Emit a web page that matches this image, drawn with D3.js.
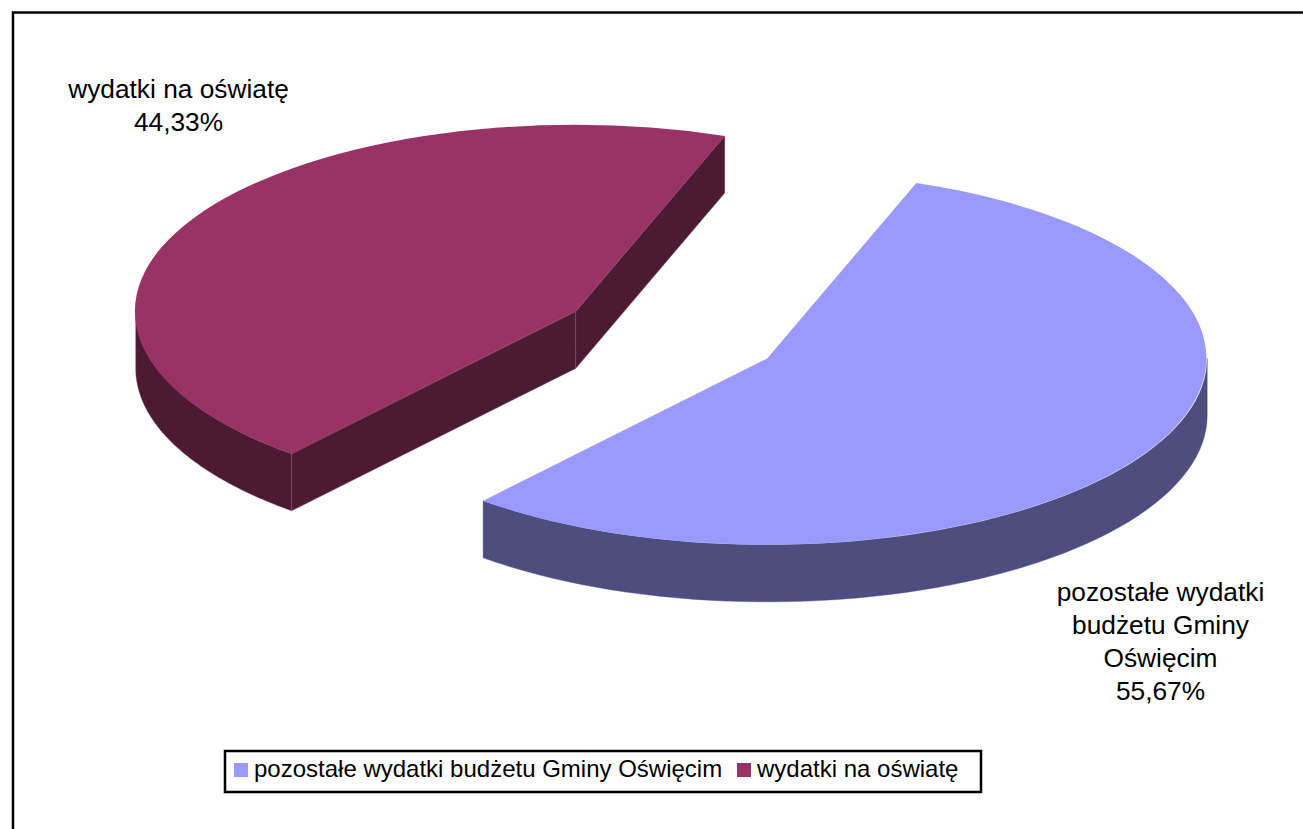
<!DOCTYPE html>
<html lang="pl">
<head>
<meta charset="utf-8">
<title>Wydatki budżetu</title>
<script src="https://cdn.jsdelivr.net/npm/d3@7"></script>
<style>
html, body { margin: 0; padding: 0; background: #fff; overflow: hidden; }
svg { display: block; }
text { font-family: "Liberation Sans", Arial, sans-serif; fill: #000; }
.label { font-size: 26.3px; text-anchor: middle; }
.legendText { font-size: 24px; }
</style>
</head>
<body>
<div id="chart"></div>
<script>
var w = 1303, h = 829;

var categories = ["pozostałe wydatki budżetu Gminy Oświęcim", "wydatki na oświatę"];
var values = [55.67, 44.33];
var valueLabels = ["55,67%", "44,33%"];
var labelLines = [["pozostałe wydatki", "budżetu Gminy", "Oświęcim"], ["wydatki na oświatę"]];
var topColors = ["#9999ff", "#993366"];
var sideColors = ["#4d4d80", "#4d1a33"];

var rx = 440, ry = 186.5, depth = 57;
var firstAngle = 19.8 * Math.PI / 180;
// exploded slices have their own centres on the page
var centers = [[767.2, 358.4], [575.7, 311.4]];
var labelPos = [[1160.5, 600.5], [178.5, 97.5]];

var svg = d3.select("#chart").append("svg")
	.attr("width", w)
	.attr("height", h);

// outer frame, cut off by the window on the right and bottom
svg.append("path")
	.attr("d", "M13,830V12.5H1304")
	.attr("fill", "none")
	.attr("stroke", "#000")
	.attr("stroke-width", 2.5);

var pie = d3.pie().sort(null)
	.startAngle(firstAngle)
	.endAngle(firstAngle + 2 * Math.PI);
var slices = pie(values);

var arc = d3.arc().innerRadius(0).outerRadius(1);

function px(a, i) { return centers[i][0] + rx * Math.sin(a); }
function py(a, i) { return centers[i][1] - ry * Math.cos(a); }

// side wall along the rim between angles a0 and a1
function rimWall(a0, a1, i) {
	var pts = d3.range(0, 61).map(function(k) {
		var a = a0 + (a1 - a0) * k / 60;
		return [px(a, i), py(a, i)];
	});
	var lower = pts.map(function(p) { return [p[0], p[1] + depth]; }).reverse();
	return d3.line()(pts.concat(lower)) + "Z";
}

// flat wall from the slice centre to the rim point at angle a
function cutWall(a, i) {
	var c = centers[i], e = [px(a, i), py(a, i)];
	return d3.line()([c, e, [e[0], e[1] + depth], [c[0], c[1] + depth]]) + "Z";
}

var walls = [
	[rimWall(Math.PI / 2, slices[0].endAngle, 0)],
	[rimWall(slices[1].startAngle, 1.5 * Math.PI, 1), cutWall(slices[1].startAngle, 1), cutWall(slices[1].endAngle, 1)]
];

slices.forEach(function(s, i) {
	var g = svg.append("g");
	walls[i].forEach(function(d) {
		g.append("path")
			.attr("d", d)
			.attr("fill", sideColors[i])
			.attr("stroke", i == 1 ? "#7a4f66" : sideColors[i])
			.attr("stroke-width", 0.4);
	});
	g.append("path")
		.attr("d", arc(s))
		.attr("transform", "translate(" + centers[i][0] + "," + centers[i][1] + ") scale(" + rx + "," + ry + ")")
		.attr("fill", topColors[i]);
});

// data labels
labelLines.forEach(function(lines, i) {
	var t = svg.append("text")
		.attr("class", "label")
		.attr("x", labelPos[i][0])
		.attr("y", labelPos[i][1]);
	lines.concat([valueLabels[i]]).forEach(function(l, k) {
		t.append("tspan")
			.attr("x", labelPos[i][0])
			.attr("dy", k == 0 ? 0 : 33)
			.text(l);
	});
});

// legend
var legend = svg.append("g").attr("transform", "translate(225,751)");
legend.append("rect")
	.attr("width", 756)
	.attr("height", 41)
	.attr("fill", "#fff")
	.attr("stroke", "#000")
	.attr("stroke-width", 2.5);

var legendX = d3.scaleOrdinal().domain(categories).range([9, 512]);
categories.forEach(function(c, i) {
	legend.append("rect")
		.attr("x", legendX(c))
		.attr("y", 12)
		.attr("width", 14)
		.attr("height", 14)
		.attr("fill", topColors[i]);
	legend.append("text")
		.attr("class", "legendText")
		.attr("x", legendX(c) + 20)
		.attr("y", 26)
		.text(c);
});
</script>
</body>
</html>
